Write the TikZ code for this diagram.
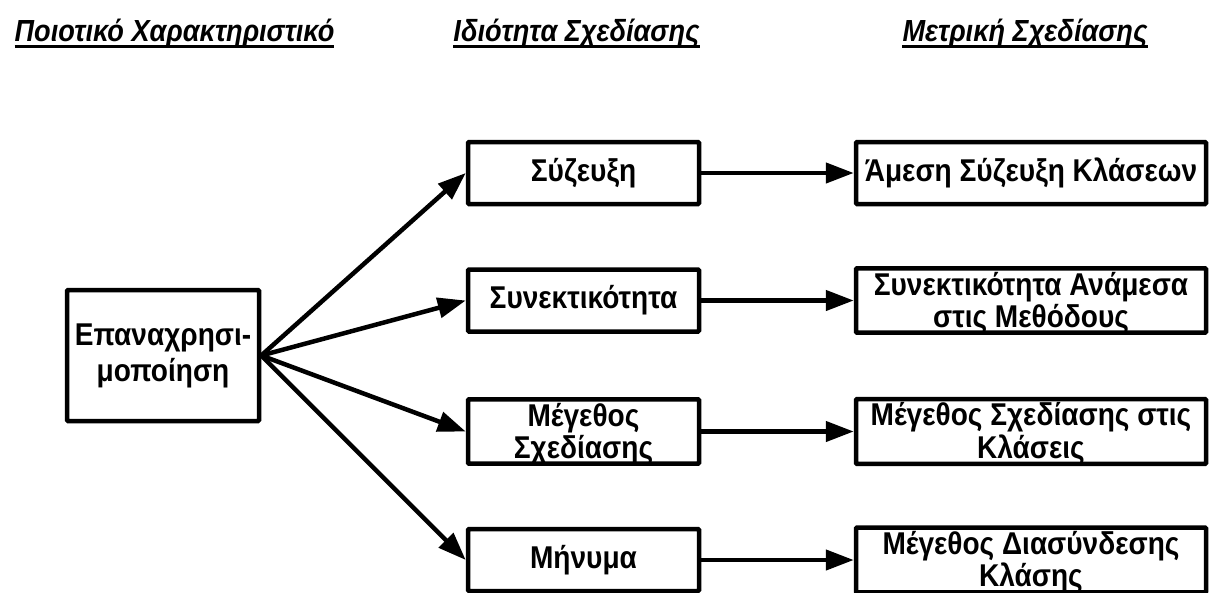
\documentclass[tikz,border=0pt]{standalone}
\usepackage{fontspec}
\setmainfont{Liberation Sans}
\newfontfamily\tallfont{Liberation Sans}[FakeStretch=0.89]
\usetikzlibrary{arrows.meta}
\newcommand\lowtext[1]{\raisebox{-3.5pt}[\height][\depth]{\begin{tabular}{@{}c@{}}#1\end{tabular}}}
\begin{document}
\begin{tikzpicture}[x=1pt,y=-1pt,
  box/.style={draw, line width=4.5pt, rounded corners=1pt, inner sep=0pt, align=center,
    font=\tallfont\bfseries\fontsize{31.5}{30}\selectfont},
  leftbox/.style={box, minimum width=192pt, minimum height=131pt,
    font=\tallfont\bfseries\fontsize{31.5}{36}\selectfont},
  midbox/.style={box, minimum width=231pt, minimum height=62pt},
  rbox/.style={box, minimum width=350pt, minimum height=62pt},
  hdr/.style={anchor=base, inner sep=0pt, font=\tallfont\bfseries\itshape\fontsize{30.5}{30}\selectfont},
  uline/.style={line width=3pt},
  arr/.style={line width=4.5pt, -{Triangle[length=28pt,width=20pt]}},
]
\useasboundingbox (0,0) rectangle (1215,592);

% headers
\node[hdr] (h1) at (174.5,41) {Ποιοτικό Χαρακτηριστικό};
\node[hdr] (h2) at (576.5,41) {Ιδιότητα Σχεδίασης};
\node[hdr] (h3) at (1025,41) {Μετρική Σχεδίασης};
\foreach \h in {h1,h2,h3}
  \draw[uline] ([yshift=-5pt]\h.base west) -- ([yshift=-5pt]\h.base east);

% left box
\node[leftbox] (L) at (163,355.5) {Επαναχρησι-\\μοποίηση};

% middle boxes
\node[midbox] (m1) at (583.5,173) {Σύζευξη};
\node[midbox] (m2) at (583.5,300.5) {Συνεκτικότητα};
\node[midbox] (m3) at (583.5,431.5) {\lowtext{Μέγεθος\\Σχεδίασης}};
\node[midbox] (m4) at (583.5,560) {Μήνυμα};

% right boxes
\node[rbox] (r1) at (1031,173) {Άμεση Σύζευξη Κλάσεων};
\node[rbox] (r2) at (1031,300.5) {\lowtext{Συνεκτικότητα Ανάμεσα\\στις Μεθόδους}};
\node[rbox] (r3) at (1031,431.5) {\lowtext{Μέγεθος Σχεδίασης στις\\Κλάσεις}};
\node[rbox] (r4) at (1031,560) {\lowtext{Μέγεθος Διασύνδεσης\\Κλάσης}};

% connectors
\foreach \i in {1,2,3,4}{
  \draw[arr] (L.east) -- (m\i.west);
  \draw[arr] (m\i.east) -- (r\i.west);
}
\end{tikzpicture}
\end{document}
